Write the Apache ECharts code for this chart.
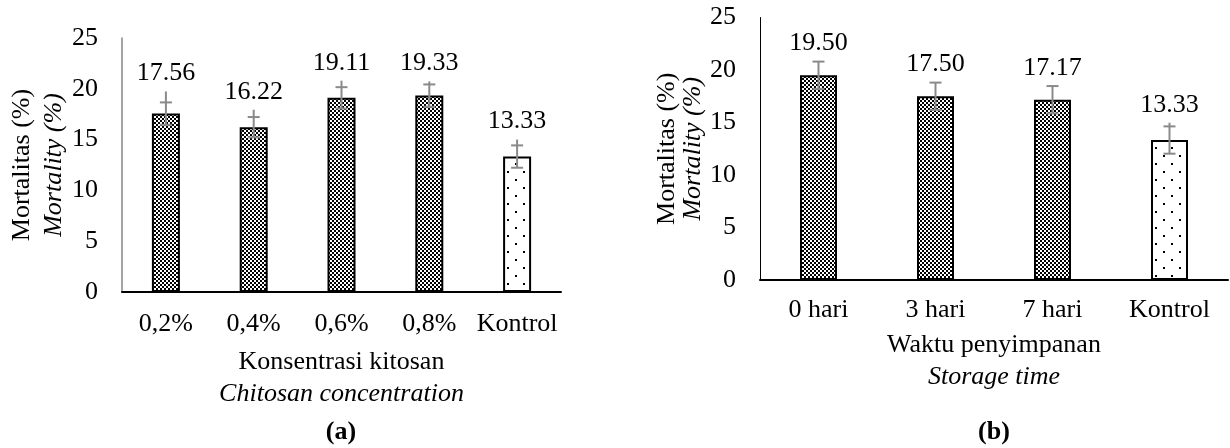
<!DOCTYPE html>
<html><head><meta charset="utf-8">
<script src="https://cdn.jsdelivr.net/npm/echarts@6/dist/echarts.min.js"></script>
<style>html,body{margin:0;padding:0;background:#fff}#c{width:1230px;height:448px}</style>
</head><body><div id="c"></div>
<script>
// ---- data ----
const catsA = ['0,2%', '0,4%', '0,6%', '0,8%', 'Kontrol'];
const valsA = [17.56, 16.22, 19.11, 19.33, 13.33];
const errA = [1.1, 1.0, 1.05, 1.1, 1.1];
const whiskerTopA = [19.74, 17.94, 20.8, 20.73, 15.0];

const catsB = ['0 hari', '3 hari', '7 hari', 'Kontrol'];
const valsB = [19.50, 17.50, 17.17, 13.33];
const errB = [1.3, 1.3, 1.3, 1.3];
const whiskerTopB = [20.79, 18.8, 18.47, 14.98];

const yMin = 0, yMax = 25, yStep = 5;

const xTitleA = ['Konsentrasi kitosan', 'Chitosan concentration'];
const xTitleB = ['Waktu penyimpanan', 'Storage time'];
const yTitle = ['Mortalitas (%)', 'Mortality (%)'];
const panelLabels = ['(a)', '(b)'];

// ---- patterns ----
const FONT = 'Liberation Serif';
function checkerCanvas() {
  const c = document.createElement('canvas'); c.width = 4; c.height = 4;
  const g = c.getContext('2d');
  g.fillStyle = '#fff'; g.fillRect(0, 0, 4, 4);
  g.fillStyle = '#000'; g.fillRect(0, 0, 2, 2); g.fillRect(2, 2, 2, 2);
  return c;
}
function dotsCanvas() {
  const c = document.createElement('canvas'); c.width = 16; c.height = 16;
  const g = c.getContext('2d');
  g.fillStyle = '#fff'; g.fillRect(0, 0, 16, 16);
  g.fillStyle = '#000'; g.fillRect(3, 3, 2, 2); g.fillRect(11, 11, 2, 2);
  return c;
}
const checker = { image: checkerCanvas(), repeat: 'repeat' };
const dots = { image: dotsCanvas(), repeat: 'repeat' };

function barData(cats, vals) {
  return vals.map((v, i) => ({
    value: v,
    itemStyle: { color: cats[i] === 'Kontrol' ? dots : checker }
  }));
}
function errData(vals, errs, tops) {
  return vals.map((v, i) => [i, v, errs[i], tops[i]]);
}
function renderErr(params, api) {
  const x = api.value(0), v = api.value(1), e = api.value(2), wt = api.value(3);
  const top = api.coord([x, v + e]);
  const bot = api.coord([x, v - e]);
  const wtop = api.coord([x, Math.max(wt, v + e)]);
  const hw = 6;
  const style = { stroke: '#8a8a8a', lineWidth: 2 };
  return {
    type: 'group', children: [
      { type: 'line', shape: { x1: top[0], y1: wtop[1], x2: top[0], y2: bot[1] }, style },
      { type: 'line', shape: { x1: top[0] - hw, y1: top[1], x2: top[0] + hw, y2: top[1] }, style },
      { type: 'line', shape: { x1: top[0] - hw, y1: bot[1], x2: top[0] + hw, y2: bot[1] }, style },
      { type: 'text', x: top[0], y: wtop[1] - 18,
        style: { text: v.toFixed(2), font: '26px "' + FONT + '"', fill: '#000', align: 'center', verticalAlign: 'middle' } }
    ]
  };
}
function xName(t) { return '{a|' + t[0] + '}\n{b|' + t[1] + '}'; }
function richStyle(lh) {
  return {
    rich: {
      a: { fontSize: 26, fontFamily: FONT, color: '#000', lineHeight: lh },
      b: { fontSize: 26, fontFamily: FONT, color: '#000', fontStyle: 'italic', lineHeight: lh }
    }
  };
}
function xAxis(cats, gridIndex, margin, gap) {
  return {
    type: 'category', data: cats, gridIndex,
    axisLine: { lineStyle: { color: '#000', width: 2 } },
    axisTick: { show: false },
    axisLabel: { fontSize: 26, fontFamily: FONT, color: '#000', margin, interval: 0 },
    name: xName(gridIndex === 0 ? xTitleA : xTitleB),
    nameLocation: 'middle', nameGap: gap,
    nameTextStyle: richStyle(32)
  };
}
function yAxis(gridIndex, lineColor, lineWidth, gap, lh) {
  return {
    type: 'value', gridIndex, min: yMin, max: yMax, interval: yStep,
    axisLine: { show: true, lineStyle: { color: lineColor, width: lineWidth } },
    axisTick: { show: false },
    splitLine: { show: false },
    axisLabel: { fontSize: 26, fontFamily: FONT, color: '#000', margin: 24 },
    name: xName(yTitle), nameLocation: 'middle', nameGap: gap,
    nameTextStyle: richStyle(lh)
  };
}

const chart = echarts.init(document.getElementById('c'), null, { renderer: 'canvas' });
chart.setOption({
  animation: false,
  backgroundColor: '#fff',
  textStyle: { fontFamily: FONT },
  grid: [
    { left: 122, top: 38, width: 439, height: 254 },
    { left: 760, top: 17.5, width: 468, height: 262.5 }
  ],
  xAxis: [xAxis(catsA, 0, 19, 54), xAxis(catsB, 1, 17, 49)],
  yAxis: [yAxis(0, '#868686', 1.5, 52, 32), yAxis(1, '#000', 1, 50, 26)],
  series: [
    { type: 'bar', xAxisIndex: 0, yAxisIndex: 0, data: barData(catsA, valsA), barWidth: 28,
      itemStyle: { borderColor: '#000', borderWidth: 2 } },
    { type: 'bar', xAxisIndex: 1, yAxisIndex: 1, data: barData(catsB, valsB), barWidth: 37,
      itemStyle: { borderColor: '#000', borderWidth: 2 } },
    { type: 'custom', xAxisIndex: 0, yAxisIndex: 0, data: errData(valsA, errA, whiskerTopA),
      renderItem: renderErr, encode: { x: 0, y: 1 }, z: 5 },
    { type: 'custom', xAxisIndex: 1, yAxisIndex: 1, data: errData(valsB, errB, whiskerTopB),
      renderItem: renderErr, encode: { x: 0, y: 1 }, z: 5 }
  ],
  graphic: [
    { type: 'text', x: 341, y: 432, style: { text: panelLabels[0], font: 'bold 26px "' + FONT + '"', fill: '#000', align: 'center', verticalAlign: 'middle' } },
    { type: 'text', x: 994, y: 432, style: { text: panelLabels[1], font: 'bold 26px "' + FONT + '"', fill: '#000', align: 'center', verticalAlign: 'middle' } }
  ]
});
</script>
</body></html>
